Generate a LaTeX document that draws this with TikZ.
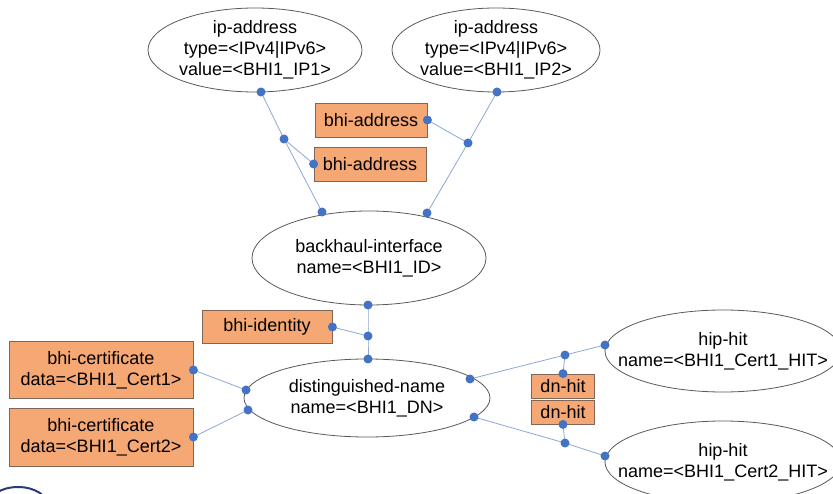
\documentclass[tikz,border=0pt]{standalone}
\usepackage{fontspec}
\setmainfont{Liberation Sans}
\definecolor{boxfill}{HTML}{F5A874}
\definecolor{boxline}{HTML}{7F6656}
\definecolor{linkcol}{HTML}{8CA8D6}
\definecolor{dotcol}{HTML}{4472C4}
\definecolor{ovalline}{HTML}{5A5A5A}
\definecolor{navy}{HTML}{2B3A78}
\tikzset{
  every node/.style={font=\fontsize{18}{21}\selectfont, align=center, inner sep=0pt},
  ovalline/.style={draw=ovalline, line width=0.8pt, fill=white},
  tag/.style={rectangle, draw=boxline, line width=0.8pt, fill=boxfill},
  link/.style={draw=linkcol, line width=0.8pt},
  dot/.style={fill=dotcol}
}
\newcommand{\putdot}[1]{\fill[dot] (#1) circle (4.5pt);}
% an ellipse object: #1 name, #2 centre, #3 x radius, #4 y radius, #5 text
\newcommand{\objoval}[5]{%
  \coordinate (#1) at #2;
  \path[ovalline] (#1) ellipse [x radius=#3, y radius=#4];
  \node (#1-text) at (#1) {#5};}
\begin{document}
\begin{tikzpicture}[x=1pt,y=-1pt]
\useasboundingbox (0,0) rectangle (833,494);
\begin{scope}
\clip (0,0) rectangle (833,494);

% objects
\objoval{ip1}{(255,50)}{107pt}{42pt}{ip-address\\type=<IPv4|IPv6>\\value=<BHI1\_IP1>}
\objoval{ip2}{(496,50)}{104pt}{42pt}{ip-address\\type=<IPv4|IPv6>\\value=<BHI1\_IP2>}
\objoval{bh}{(369,258)}{117pt}{47pt}{backhaul-interface\\name=<BHI1\_ID>}
\objoval{dn}{(367,398)}{123pt}{39pt}{distinguished-name\\name=<BHI1\_DN>}
\objoval{hit1}{(723,351)}{118pt}{41pt}{hip-hit\\name=<BHI1\_Cert1\_HIT>}
\objoval{hit2}{(723,462)}{118pt}{41pt}{hip-hit\\name=<BHI1\_Cert2\_HIT>}

% relation labels and attribute boxes
\node[tag, minimum width=112pt, minimum height=34pt] (addr1) at (371,120) {bhi-address};
\node[tag, minimum width=112pt, minimum height=34pt] (addr2) at (370,164) {bhi-address};
\node[tag, minimum width=130pt, minimum height=33pt] (ident) at (267,327) {bhi-identity};
\node[tag, minimum width=184pt, minimum height=57pt] (cert1) at (101,370)
  {bhi-certificate\\data=<BHI1\_Cert1>};
\node[tag, minimum width=184pt, minimum height=58pt] (cert2) at (101,437)
  {bhi-certificate\\data=<BHI1\_Cert2>};
\node[tag, minimum width=63pt, minimum height=24pt] (dnhit1) at (563,386) {dn-hit};
\node[tag, minimum width=63pt, minimum height=24pt] (dnhit2) at (563,412) {dn-hit};

% junction points
\coordinate (j1) at (284,139);
\coordinate (j2) at (468,143);
\coordinate (j3) at (368,336);
\coordinate (j4) at (565,355);
\coordinate (j5) at (565,443);

% attachment points on the ellipse borders
\coordinate (ip1b) at (261,92);
\coordinate (ip2b) at (497,92);
\coordinate (bhtl) at (322,212);
\coordinate (bhtr) at (427,213);
\coordinate (bhb)  at (368,305);
\coordinate (dnt)  at (368,359);
\coordinate (dnl1) at (246,390);
\coordinate (dnl2) at (248,410);
\coordinate (dnr1) at (470,379);
\coordinate (dnr2) at (474,417);
\coordinate (h1l)  at (605,345);
\coordinate (h2l)  at (605,456);
\coordinate (a1e)  at (addr1.east);
\coordinate (a2w)  at (addr2.west);
\coordinate (ide)  at (ident.east);
\coordinate (c1e)  at (cert1.east);
\coordinate (c2e)  at (cert2.east);
\coordinate (d1n)  at (dnhit1.north);
\coordinate (d2s)  at (dnhit2.south);

% connectors
\draw[link] (ip1b) -- (j1) -- (bhtl);
\draw[link] (j1) -- (a2w);
\draw[link] (ip2b) -- (j2) -- (bhtr);
\draw[link] (j2) -- (a1e);
\draw[link] (bhb) -- (j3) -- (dnt);
\draw[link] (j3) -- (ide);
\draw[link] (c1e) -- (dnl1);
\draw[link] (c2e) -- (dnl2);
\draw[link] (dnr1) -- (j4) -- (h1l);
\draw[link] (j4) -- (d1n);
\draw[link] (dnr2) -- (j5) -- (h2l);
\draw[link] (j5) -- (d2s);

% end and junction dots
\foreach \p in {j1,j2,j3,j4,j5,ip1b,ip2b,bhtl,bhtr,bhb,dnt,dnl1,dnl2,dnr1,dnr2,h1l,h2l,a1e,a2w,ide,c1e,c2e,d1n,d2s}
  {\putdot{\p}}

% edge of a further shape at the lower left
\draw[navy, line width=2pt] (18,506) ellipse [x radius=30pt, y radius=19pt];
\end{scope}
\end{tikzpicture}
\end{document}
